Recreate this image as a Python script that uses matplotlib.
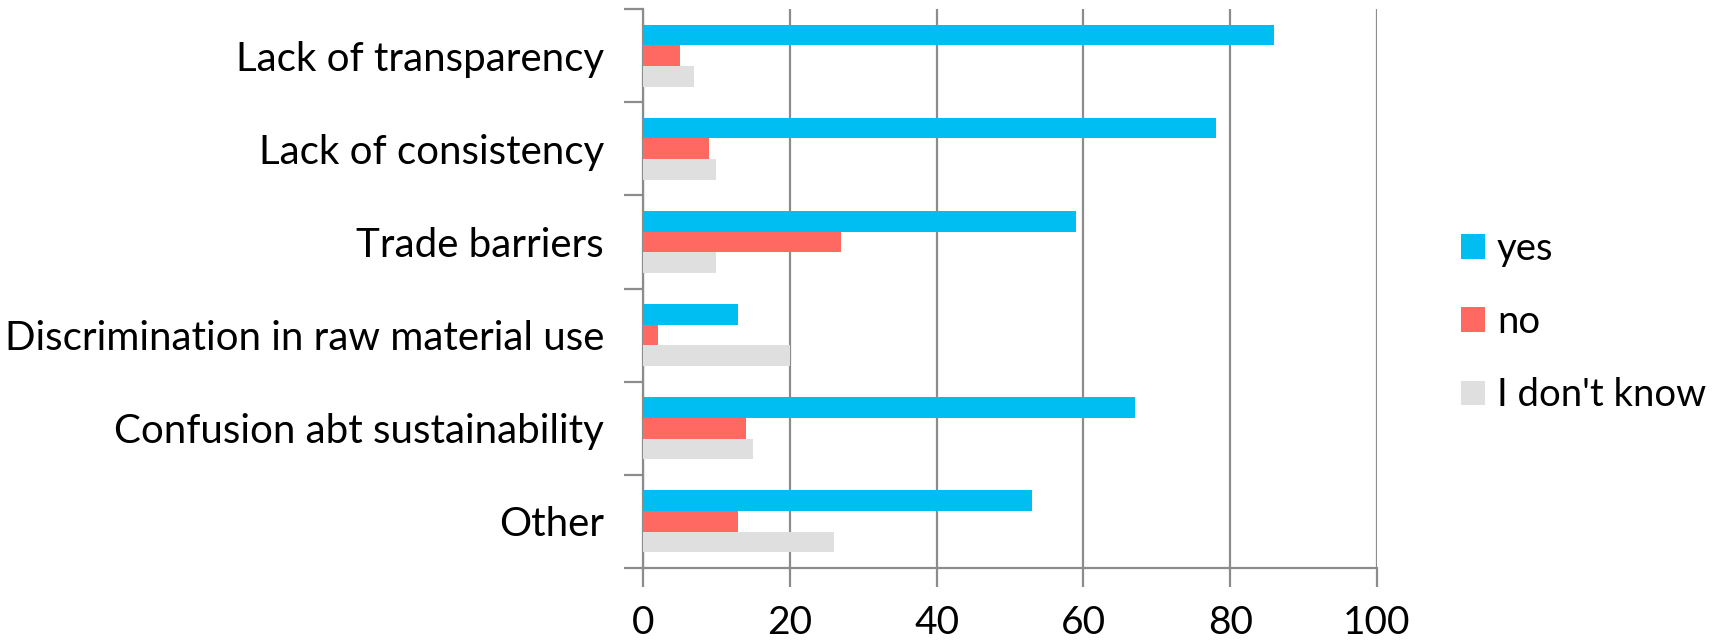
import numpy as np
import matplotlib
matplotlib.use("Agg")
import matplotlib.pyplot as plt

plt.rcParams['font.family'] = ['Lato', 'DejaVu Sans']

# data
categories = ['Lack of transparency', 'Lack of consistency', 'Trade barriers',
              'Discrimination in raw material use', 'Confusion abt sustainability', 'Other']
yes = [86, 78, 59, 13, 67, 53]
no = [5, 9, 27, 2, 14, 13]
dont_know = [7, 10, 10, 20, 15, 26]
series_names = ['yes', 'no', "I don't know"]
colors = ['#00BEF2', '#FF6962', '#DFDFDF']
x_ticks = [0, 20, 40, 60, 80, 100]

fig = plt.figure(figsize=(17.29, 6.42), dpi=100)
ax = fig.add_axes([643/1729, 1 - 568/642, (1377 - 643)/1729, (568 - 9)/642])

pos = np.arange(len(categories))
h = 0.222
for k, (vals, name, c) in enumerate(zip([yes, no, dont_know], series_names, colors)):
    ax.barh(pos + (k - 1) * h, vals, height=h, color=c, label=name, zorder=3)

ax.set_xlim(0, 100)
ax.set_ylim(len(categories) - 0.5, -0.5)
ax.set_xticks(x_ticks)
ax.xaxis.grid(True, color='#8C8C8C', linewidth=1.6, zorder=0)

# category boundaries as ticks, labels in the middle
ax.set_yticks(np.arange(len(categories) + 1) - 0.5)
ax.set_yticklabels([])
ax.set_yticks(pos, minor=True)
ax.set_yticklabels(categories, minor=True, fontsize=29)
ax.tick_params(axis='y', which='minor', length=0, pad=28)
ax.tick_params(axis='y', which='major', length=14, width=1.6, color='#8C8C8C')
ax.tick_params(axis='x', length=14, width=1.6, color='#8C8C8C', labelsize=28, pad=13)

for s in ['top', 'right']:
    ax.spines[s].set_visible(False)
for s in ['left', 'bottom']:
    ax.spines[s].set_color('#8C8C8C')
    ax.spines[s].set_linewidth(1.6)

ax.legend(loc='center left', bbox_to_anchor=(1461/1729, 320/642), bbox_transform=fig.transFigure,
          frameon=False, fontsize=27.5, handlelength=0.62, handleheight=0.62,
          handletextpad=0.32, labelspacing=0.98, borderaxespad=0, borderpad=0)

fig.savefig('out.png', dpi=100)
